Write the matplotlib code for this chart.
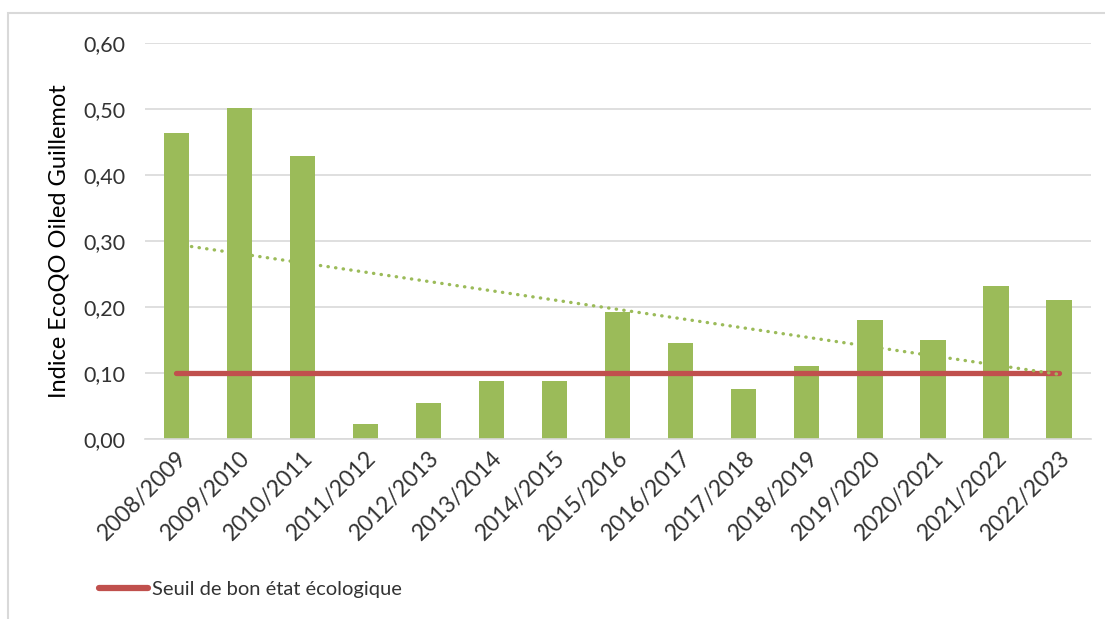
import matplotlib
matplotlib.use("Agg")
import matplotlib.pyplot as plt
from matplotlib.patches import Rectangle
import numpy as np

plt.rcParams['font.family'] = ['Lato', 'DejaVu Sans']

# données
saisons = ["2008/2009", "2009/2010", "2010/2011", "2011/2012", "2012/2013",
           "2013/2014", "2014/2015", "2015/2016", "2016/2017", "2017/2018",
           "2018/2019", "2019/2020", "2020/2021", "2021/2022", "2022/2023"]
indice = [0.463, 0.501, 0.429, 0.023, 0.055, 0.088, 0.088, 0.192, 0.146,
          0.076, 0.111, 0.180, 0.150, 0.232, 0.211]
seuil = 0.10
yticks = [0.0, 0.1, 0.2, 0.3, 0.4, 0.5, 0.6]

vert = '#9BBB59'
rouge = '#C0504D'
gris = '#D9D9D9'
texte = '#333333'

fig = plt.figure(figsize=(11.05, 6.19), dpi=100)
ax = fig.add_axes([0.131, 0.291, 0.856, 0.6395])

x = np.arange(len(saisons))
ax.bar(x, indice, width=0.4, color=vert, zorder=2)

# seuil de bon état
ax.plot(x, [seuil] * len(x), color=rouge, linewidth=3.8, zorder=3,
        solid_capstyle='round', label='Seuil de bon état écologique')

# tendance linéaire (comme Excel)
pente, origine = np.polyfit(x, indice, 1)
ax.plot(x, pente * x + origine, color=vert, linewidth=2.4,
        linestyle=(0, (0.1, 2.2)), dash_capstyle='round', zorder=4)

ax.set_xlim(-0.5, len(saisons) - 0.5)
ax.set_ylim(0, 0.6)
ax.set_yticks(yticks)
ax.set_yticklabels([f"{v:.2f}".replace('.', ',') for v in yticks],
                   fontsize=15.5, color=texte)
ax.set_xticks(x)
ax.set_xticklabels(saisons, rotation=45, ha='right', rotation_mode='anchor',
                   fontsize=16.5, color=texte)
ax.tick_params(axis='y', length=0, pad=14)
ax.tick_params(axis='x', length=0, pad=6)
ax.grid(axis='y', color=gris, linewidth=1.2, zorder=0)
for s in ['top', 'right', 'left']:
    ax.spines[s].set_visible(False)
ax.spines['bottom'].set_color(gris)
ax.spines['bottom'].set_linewidth(1.2)
ax.set_ylabel('Indice EcoQO Oiled Guillemot', fontsize=17, color='black',
              labelpad=10)

leg = fig.legend(loc='center left', bbox_to_anchor=(0.09, 0.048),
                 frameon=False, fontsize=14.5, handlelength=2.4,
                 handletextpad=0.2, borderaxespad=0, borderpad=0)
leg.get_lines()[0].set_linewidth(4.5)
for t in leg.get_texts():
    t.set_color(texte)

# cadre du graphique
fig.patches.append(Rectangle((8 / 1105, -0.1), 1.1, 0.1 + 1 - 13 / 619,
                             transform=fig.transFigure, fill=False,
                             edgecolor=gris, linewidth=1.5))

fig.savefig('out.png', dpi=100)
